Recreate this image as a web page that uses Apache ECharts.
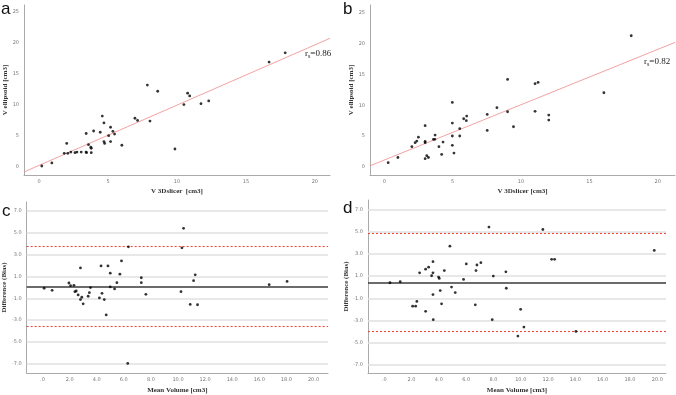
<!DOCTYPE html>
<html>
<head>
<meta charset="utf-8">
<script src="https://cdn.jsdelivr.net/npm/echarts@6/dist/echarts.min.js"></script>
<style>
  html, body { margin: 0; padding: 0; background: #fff; }
  #chart { width: 676px; height: 395px; }
</style>
</head>
<body>
<div id="chart"></div>
<script>
// panel a: V 3Dslicer vs V ellipsoid
var pointsA = [
  [0.19, 0.16], [0.92, 0.65], [1.82, 2.2], [2.0, 3.8], [2.08, 2.2], [2.3, 2.4], [2.6, 2.3],
  [2.74, 2.4], [3.05, 2.4], [3.4, 2.4], [3.41, 5.4], [3.44, 2.3], [3.58, 3.6], [3.75, 3.2],
  [3.78, 3.0], [3.78, 2.3], [3.95, 5.8], [4.43, 5.6], [4.58, 8.2], [4.7, 7.1], [4.7, 4.1],
  [4.75, 3.8], [5.04, 5.05], [5.18, 6.4], [5.18, 4.1], [5.35, 5.75], [5.47, 5.3], [6.0, 3.5],
  [6.95, 7.85], [7.14, 7.5], [7.85, 13.2], [8.04, 7.4], [8.6, 12.2], [9.85, 2.9], [10.5, 10.05],
  [10.77, 11.9], [10.92, 11.45], [11.74, 10.2], [12.3, 10.65], [16.68, 16.9], [17.85, 18.4]
];
var fitA = { slope: 0.97, intercept: 0.27, rs: '0.86' };

// panel b
var pointsB = [
  [0.29, 0.65], [1.0, 1.5], [2.02, 3.25], [2.26, 3.9], [2.38, 4.17], [2.5, 4.8], [2.99, 6.67],
  [2.99, 4.1], [2.99, 3.9], [2.99, 1.3], [3.11, 1.8], [3.23, 1.5], [3.6, 4.45], [3.7, 4.45],
  [3.72, 5.15], [4.0, 3.25], [4.2, 2.0], [4.3, 4.0], [4.98, 10.46], [4.98, 7.1], [4.98, 4.99],
  [4.98, 3.47], [5.1, 2.22], [5.52, 6.18], [5.52, 4.99], [5.81, 7.8], [6.0, 7.48], [6.03, 8.24],
  [7.53, 8.5], [7.53, 5.9], [8.24, 9.6], [9.02, 14.2], [9.02, 8.94], [9.45, 6.5], [11.03, 13.5],
  [11.03, 9.0], [11.25, 13.7], [12.03, 8.4], [12.03, 7.59], [16.06, 12.03], [18.06, 21.3]
];
var fitB = { slope: 0.9, intercept: 1.08, rs: '0.82' };

// panel c: Bland-Altman
var pointsC = [
  [0.12, -0.08], [0.71, -0.27], [1.95, 0.4], [2.07, 0.16], [2.32, 0.19], [2.39, -0.39],
  [2.49, -0.33], [2.63, -0.69], [2.8, 1.78], [2.8, -1.11], [2.9, -0.9], [3.0, -1.5],
  [3.37, -0.81], [3.46, -0.48], [3.54, -0.02], [4.2, -0.96], [4.32, 1.96], [4.39, -0.54],
  [4.56, -1.11], [4.7, -2.52], [4.83, 1.96], [5.0, 1.3], [5.0, 0.04], [5.32, -0.14],
  [5.49, 0.43], [5.71, 1.21], [5.83, 2.42], [6.29, -6.95], [6.34, 3.71], [7.29, 0.88],
  [7.29, 0.43], [7.63, -0.63], [10.22, -0.39], [10.29, 3.62], [10.41, 5.4], [10.9, -1.56],
  [11.15, 0.61], [11.27, 1.15], [11.44, -1.59], [16.73, 0.25], [18.05, 0.55]
];
var biasC = { mean: 0.1, upper: 3.77, lower: -3.55 };

// panel d
var pointsD = [
  [0.42, 0.4], [1.17, 0.49], [2.08, -1.71], [2.3, -1.71], [2.39, -1.29], [2.59, 1.29],
  [3.03, -2.18], [3.03, 1.62], [3.25, 1.8], [3.47, 1.03], [3.57, 2.3], [3.57, 1.29],
  [3.57, -0.67], [3.59, -2.93], [3.98, 0.91], [4.03, 0.79], [4.1, -0.31], [4.2, -1.5],
  [4.4, 1.5], [4.81, 3.7], [4.93, 0.01], [5.2, -0.49], [5.81, 0.7], [6.01, 2.1],
  [6.67, -1.59], [6.72, 1.5], [6.79, 2.0], [7.08, 2.21], [7.67, 5.42], [7.91, -2.93],
  [7.99, 1.0], [8.91, 1.38], [8.94, -0.1], [9.79, -4.41], [9.99, -2.0], [10.23, -3.6],
  [11.62, 5.2], [12.26, 2.51], [12.48, 2.51], [14.04, -3.99], [19.78, 3.31]
];
var biasD = { mean: 0.4, upper: 4.89, lower: -4.0 };

var scatterTicks = [0, 5, 10, 15, 20, 25];
var scatterXTicks = [0, 5, 10, 15, 20];
var baXTicks = [0, 2, 4, 6, 8, 10, 12, 14, 16, 18, 20];
var baYTicks = [-7, -5, -3, -1, 1, 3, 5, 7];

var labelStyle = { fontSize: 5, color: '#777', fontFamily: 'DejaVu Sans' };
var nameStyle = { fontSize: 7, fontWeight: 'bold', color: '#333', fontFamily: 'Liberation Serif' };
var axisLine = { show: true, onZero: false, lineStyle: { color: '#aaa', width: 1 } };

function baFmt(v) {
  var s = v.toFixed(1);
  return s === '0.0' ? '.0' : s;
}

function xAx(grid, min, max, ticks, name, fmt, gap) {
  return {
    type: 'value', gridIndex: grid, min: min, max: max,
    name: name, nameLocation: 'middle', nameGap: gap, nameTextStyle: nameStyle,
    axisLine: axisLine,
    axisTick: { show: false, customValues: ticks },
    axisLabel: Object.assign({ customValues: ticks, margin: 4, formatter: fmt }, labelStyle),
    splitLine: { show: false }
  };
}
function yAx(grid, min, max, ticks, name, fmt, gap) {
  return {
    type: 'value', gridIndex: grid, min: min, max: max,
    name: name, nameLocation: 'middle', nameGap: gap, nameTextStyle: nameStyle,
    axisLine: axisLine,
    axisTick: { show: false, customValues: ticks },
    axisLabel: Object.assign({ customValues: ticks, margin: 5, formatter: fmt }, labelStyle),
    splitLine: { show: false }
  };
}

function fitLine(fit, x0, x1) {
  return [[x0, fit.intercept + fit.slope * x0], [x1, fit.intercept + fit.slope * x1]];
}

function dots(i, pts) {
  return {
    type: 'scatter', xAxisIndex: i, yAxisIndex: i, data: pts, z: 5,
    symbol: 'circle', symbolSize: 2.8, itemStyle: { color: '#000' }, silent: true
  };
}

// light horizontal grid lines at the odd tick values
function gridLines(i) {
  return {
    type: 'line', xAxisIndex: i, yAxisIndex: i, data: [], z: 1,
    markLine: {
      silent: true, symbol: 'none', label: { show: false }, animation: false,
      lineStyle: { color: '#e0e0e0', type: 'solid', width: 1.6 },
      data: baYTicks.map(function (v) { return { yAxis: v }; })
    }
  };
}

function meanLine(i, b) {
  return {
    type: 'line', xAxisIndex: i, yAxisIndex: i, data: [], z: 3,
    markLine: {
      silent: true, symbol: 'none', label: { show: false }, animation: false,
      lineStyle: { color: '#3a3a3a', type: 'solid', width: 1.5 },
      data: [{ yAxis: b.mean }]
    }
  };
}

function limitLines(i, b) {
  return {
    type: 'line', xAxisIndex: i, yAxisIndex: i, data: [], z: 3,
    markLine: {
      silent: true, symbol: 'none', label: { show: false }, animation: false,
      lineStyle: { color: '#f2473a', type: [2, 2], width: 1.1 },
      data: [{ yAxis: b.upper }, { yAxis: b.lower }]
    }
  };
}

function rsText(left, top, rs) {
  return {
    type: 'text', left: left, top: top,
    style: {
      text: '{r|r}{s|s}{r|=' + rs + '}',
      rich: {
        r: { fontSize: 9, fontFamily: 'Liberation Serif', fill: '#222' },
        s: { fontSize: 6, fontFamily: 'Liberation Serif', fill: '#222', padding: [5, 0, 0, 0] }
      }
    }
  };
}

function letter(t, left, top) {
  return { type: 'text', left: left, top: top, style: { text: t, fontSize: 17, fill: '#111', fontFamily: 'Liberation Sans' } };
}

var chart = echarts.init(document.getElementById('chart'));

var sFmt = function (v) { return String(v); };

var option = {
  backgroundColor: '#fff',
  animation: false,
  grid: [
    { left: 24, top: 5, width: 306, height: 170 },
    { left: 370, top: 5, width: 305, height: 170 },
    { left: 24, top: 202, width: 304, height: 173 },
    { left: 368, top: 200, width: 298, height: 175 }
  ],
  xAxis: [
    xAx(0, -1.1, 21.1, scatterXTicks, 'V 3Dslicer  [cm3]', sFmt, 13),
    xAx(1, -1.04, 21.26, scatterXTicks, 'V 3Dslicer [cm3]', sFmt, 13),
    xAx(2, -1.17, 21.07, baXTicks, 'Mean Volume [cm3]', baFmt, 14),
    xAx(3, -1.19, 20.64, baXTicks, 'Mean Volume [cm3]', baFmt, 14)
  ],
  yAxis: [
    yAx(0, -1.29, 26.1, scatterTicks, 'V ellipsoid [cm3]', sFmt, 13),
    yAx(1, -1.35, 26.3, scatterTicks, 'V ellipsoid [cm3]', sFmt, 14),
    yAx(2, -7.83, 7.81, baYTicks, 'Difference (Bias)', baFmt, 16),
    yAx(3, -7.74, 7.86, baYTicks, 'Difference (Bias)', baFmt, 16)
  ],
  series: [
    {
      type: 'line', xAxisIndex: 0, yAxisIndex: 0, data: fitLine(fitA, -1.1, 21.1),
      symbol: 'none', silent: true, lineStyle: { color: '#ef8a8a', width: 0.8 }
    },
    {
      type: 'line', xAxisIndex: 1, yAxisIndex: 1, data: fitLine(fitB, -1.04, 21.26),
      symbol: 'none', silent: true, lineStyle: { color: '#ef8a8a', width: 0.8 }
    },
    gridLines(2),
    gridLines(3),
    meanLine(2, biasC),
    meanLine(3, biasD),
    limitLines(2, biasC),
    limitLines(3, biasD),
    dots(0, pointsA),
    dots(1, pointsB),
    dots(2, pointsC),
    dots(3, pointsD)
  ],
  graphic: [
    letter('a', 1, 1),
    letter('b', 343, 1),
    letter('c', 2, 203),
    letter('d', 343, 200),
    rsText(305, 49, fitA.rs),
    rsText(644, 57, fitB.rs)
  ]
};

chart.setOption(option);
</script>
</body>
</html>
